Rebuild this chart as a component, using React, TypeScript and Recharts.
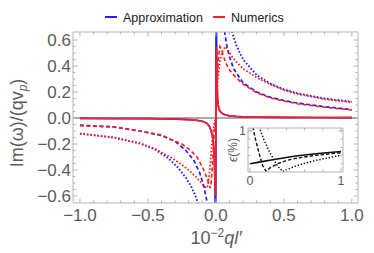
import React from 'react'
import { LineChart, Line, XAxis, YAxis, ReferenceLine } from 'recharts'

// main panel: Im(w)/(q v_p) against 10^-2 q l'
const xMajor = [-1, -0.5, 0, 0.5, 1]
const xMinor = [-0.9, -0.8, -0.7, -0.6, -0.4, -0.3, -0.2, -0.1, 0.1, 0.2, 0.3, 0.4, 0.6, 0.7, 0.8, 0.9]
const yMajor = [-0.6, -0.4, -0.2, 0, 0.2, 0.4, 0.6]
const yMinor = [-0.55, -0.5, -0.45, -0.35, -0.3, -0.25, -0.15, -0.1, -0.05, 0.05, 0.1, 0.15, 0.25, 0.3, 0.35, 0.45, 0.5, 0.55]

// solid pair
const solidQ = [-1, -0.75, -0.5, -0.3, -0.2, -0.15, -0.1, -0.07, -0.05, -0.035, -0.025, -0.018, -0.012, -0.008, -0.005, -0.003, 0.003, 0.005, 0.008, 0.012, 0.018, 0.025, 0.035, 0.05, 0.07, 0.1, 0.15, 0.2, 0.3, 0.5, 0.75, 1]
const approxSolid = [-0.003, -0.004, -0.005, -0.008, -0.012, -0.016, -0.025, -0.038, -0.06, -0.1, -0.14, -0.2, -0.3, -0.45, -0.7, -1.1, 1.1, 0.6, 0.3, 0.16, 0.09, 0.062, 0.045, 0.032, 0.024, 0.017, 0.012, 0.009, 0.007, 0.005, 0.004, 0.003]
const numSolidQ = [-1, -0.75, -0.5, -0.3, -0.2, -0.15, -0.1, -0.07, -0.05, -0.035, -0.025, -0.018, -0.012, -0.008, -0.005, -0.003, -0.0015, 0, 0.0015, 0.003, 0.005, 0.008, 0.012, 0.018, 0.025, 0.035, 0.05, 0.07, 0.1, 0.15, 0.2, 0.3, 0.5, 0.75, 1]
const numSolid = [-0.003, -0.004, -0.005, -0.008, -0.012, -0.016, -0.025, -0.038, -0.06, -0.1, -0.14, -0.2, -0.3, -0.45, -0.6, -0.45, -0.25, 0, 0.25, 0.45, 0.55, 0.3, 0.16, 0.09, 0.062, 0.045, 0.032, 0.024, 0.017, 0.012, 0.009, 0.007, 0.005, 0.004, 0.003]

// dashed pair
const approxDashNegQ = [-1, -0.75, -0.56, -0.4, -0.3, -0.22, -0.16, -0.12, -0.09, -0.07, -0.06]
const approxDashNeg = [-0.055, -0.068, -0.1, -0.135, -0.18, -0.25, -0.33, -0.42, -0.52, -0.62, -0.7]
const approxDashPosQ = [0.06, 0.065, 0.08, 0.1, 0.13, 0.2, 0.3, 0.4, 0.5, 0.6, 0.8, 1]
const approxDashPos = [0.72, 0.66, 0.56, 0.47, 0.38, 0.27, 0.2, 0.16, 0.135, 0.115, 0.087, 0.065]
const numDashQ = [-1, -0.75, -0.56, -0.4, -0.32, -0.25, -0.19, -0.14, -0.1, -0.07, -0.05, -0.042, -0.035, -0.028, -0.02, -0.013, -0.006, 0, 0.005, 0.01, 0.02, 0.03, 0.04, 0.055, 0.07, 0.1, 0.13, 0.2, 0.3, 0.4, 0.5, 0.6, 0.8, 1]
const numDash = [-0.06, -0.07, -0.1, -0.13, -0.17, -0.2, -0.245, -0.3, -0.375, -0.45, -0.51, -0.54, -0.5, -0.4, -0.25, -0.12, -0.04, 0, 0.12, 0.3, 0.48, 0.55, 0.53, 0.48, 0.43, 0.37, 0.33, 0.26, 0.195, 0.155, 0.13, 0.11, 0.083, 0.062]

// dotted pair
const approxDotNegQ = [-1, -0.75, -0.56, -0.45, -0.35, -0.28, -0.22, -0.18, -0.15, -0.13, -0.12]
const approxDotNeg = [-0.12, -0.15, -0.195, -0.24, -0.31, -0.38, -0.46, -0.53, -0.6, -0.66, -0.7]
const approxDotPosQ = [0.11, 0.12, 0.15, 0.2, 0.3, 0.4, 0.5, 0.6, 0.8, 1]
const approxDotPos = [0.72, 0.66, 0.56, 0.45, 0.33, 0.265, 0.22, 0.19, 0.15, 0.125]
const numDotQ = [-1, -0.75, -0.56, -0.45, -0.32, -0.25, -0.19, -0.14, -0.095, -0.07, -0.06, -0.05, -0.04, -0.03, -0.02, -0.01, 0, 0.005, 0.015, 0.03, 0.05, 0.07, 0.09, 0.12, 0.16, 0.2, 0.3, 0.4, 0.5, 0.6, 0.8, 1]
const numDot = [-0.12, -0.15, -0.195, -0.235, -0.31, -0.36, -0.41, -0.46, -0.515, -0.54, -0.52, -0.45, -0.33, -0.2, -0.1, -0.03, 0, 0.15, 0.3, 0.44, 0.52, 0.55, 0.52, 0.47, 0.42, 0.38, 0.31, 0.26, 0.215, 0.185, 0.145, 0.12]

// inset: relative error in percent
const insetXTicks = [0, 1]
const insetXMinor = [0.2, 0.4, 0.6, 0.8]
const insetYTicks = [1]
const insetYMinor = [0.2, 0.4, 0.6, 0.8]
const errSolidQ = [0, 0.1, 0.25, 0.5, 0.75, 1]
const errSolid = [0.2, 0.24, 0.3, 0.39, 0.45, 0.5]
const errDashQ = [0.03, 0.06, 0.1, 0.14, 0.175, 0.22, 0.3, 0.4, 0.5, 0.7, 1]
const errDash = [1.1, 0.8, 0.45, 0.15, 0.02, 0.1, 0.2, 0.28, 0.33, 0.4, 0.47]
const errDotQ = [0.1, 0.15, 0.2, 0.25, 0.3, 0.36, 0.45, 0.55, 0.7, 0.85, 1]
const errDot = [1.1, 0.8, 0.55, 0.35, 0.15, 0.01, 0.1, 0.18, 0.27, 0.34, 0.41]

const zip = (xs: number[], ys: number[]) => xs.map((x, i) => ({ x, y: ys[i] }))

const BLUE = '#1f1fff'
const RED = '#ff1f1f'
const FRAME = '#b4b4b4'
const LABEL = '#5c5c5c'
const FONT = '"Liberation Sans", Arial, sans-serif'

const fmt = (v: number) => (v === 0 ? '0.0' : v.toFixed(1).replace('-', '\u2212'))

// Mathematica-style frame ticks: pointing inward, labels only on majors
function makeTick(side: string, majors: number[], size: number, format?: (v: number) => string) {
  return (props: any) => {
    const { x, y, payload } = props
    const v = payload.value
    const major = majors.some((m) => Math.abs(m - v) < 1e-9)
    const len = major ? 4.5 : 2.5
    let line = null
    let text = null
    if (side === 'bottom') {
      line = <line x1={x} y1={y} x2={x} y2={y - len} stroke={FRAME} />
      if (major && format) text = <text x={x} y={y + size + 0.5} textAnchor="middle" fontSize={size} fill={LABEL} fontFamily={FONT}>{format(v)}</text>
    } else if (side === 'top') {
      line = <line x1={x} y1={y} x2={x} y2={y + len} stroke={FRAME} />
    } else if (side === 'left') {
      line = <line x1={x} y1={y} x2={x + len} y2={y} stroke={FRAME} />
      if (major && format) text = <text x={x - 2} y={y + size * 0.36} textAnchor="end" fontSize={size} fill={LABEL} fontFamily={FONT}>{format(v)}</text>
    } else {
      line = <line x1={x} y1={y} x2={x - len} y2={y} stroke={FRAME} />
    }
    return (
      <g>
        {line}
        {text}
      </g>
    )
  }
}

const xTicks = [...xMajor, ...xMinor].sort((a, b) => a - b)
const yTicks = [...yMajor, ...yMinor].sort((a, b) => a - b)

export default function App() {
  return (
    <div style={{ position: 'absolute', left: 0, top: 0, width: 374, height: 253, background: '#fff' }}>
      <LineChart width={374} height={253} margin={{ top: 31, right: 15, bottom: 49, left: 0 }}>
        <XAxis xAxisId="b" type="number" dataKey="x" domain={[-1.051, 1.045]} allowDataOverflow ticks={xTicks} interval={0} height={1} tickSize={0} tickMargin={0} tickLine={false} axisLine={{ stroke: FRAME }} tick={makeTick('bottom', xMajor, 17, fmt)} />
        <XAxis xAxisId="t" orientation="top" type="number" dataKey="x" domain={[-1.051, 1.045]} allowDataOverflow ticks={xTicks} interval={0} height={1} tickSize={0} tickMargin={0} tickLine={false} axisLine={{ stroke: FRAME }} tick={makeTick('top', xMajor, 17)} />
        <YAxis yAxisId="l" type="number" domain={[-0.654, 0.662]} allowDataOverflow ticks={yTicks} interval={0} width={73} tickSize={0} tickMargin={0} tickLine={false} axisLine={{ stroke: FRAME }} tick={makeTick('left', yMajor, 17, fmt)} />
        <YAxis yAxisId="r" orientation="right" type="number" domain={[-0.654, 0.662]} allowDataOverflow ticks={yTicks} interval={0} width={1} tickSize={0} tickMargin={0} tickLine={false} axisLine={{ stroke: FRAME }} tick={makeTick('right', yMajor, 17)} />
        <ReferenceLine xAxisId="b" yAxisId="l" x={0} stroke="#8f8f8f" strokeWidth={1.6} />
        <ReferenceLine xAxisId="b" yAxisId="l" y={0} stroke="#8f8f8f" strokeWidth={1.6} />

        <Line xAxisId="b" yAxisId="l" data={zip(solidQ, approxSolid)} dataKey="y" stroke={BLUE} strokeWidth={1.7} dot={false} isAnimationActive={false} />
        <Line xAxisId="b" yAxisId="l" data={zip(approxDashNegQ, approxDashNeg)} dataKey="y" stroke={BLUE} strokeWidth={1.7} strokeDasharray="4 2.5" dot={false} isAnimationActive={false} />
        <Line xAxisId="b" yAxisId="l" data={zip(approxDashPosQ, approxDashPos)} dataKey="y" stroke={BLUE} strokeWidth={1.7} strokeDasharray="4 2.5" dot={false} isAnimationActive={false} />
        <Line xAxisId="b" yAxisId="l" data={zip(approxDotNegQ, approxDotNeg)} dataKey="y" stroke={BLUE} strokeWidth={1.9} strokeDasharray="1.6 1.9" dot={false} isAnimationActive={false} />
        <Line xAxisId="b" yAxisId="l" data={zip(approxDotPosQ, approxDotPos)} dataKey="y" stroke={BLUE} strokeWidth={1.9} strokeDasharray="1.6 1.9" dot={false} isAnimationActive={false} />

        <Line xAxisId="b" yAxisId="l" data={zip(numSolidQ, numSolid)} dataKey="y" stroke={RED} strokeWidth={1.6} dot={false} isAnimationActive={false} />
        <Line xAxisId="b" yAxisId="l" data={zip(numDashQ, numDash)} dataKey="y" stroke={RED} strokeWidth={1.6} strokeDasharray="4 2.5" dot={false} isAnimationActive={false} />
        <Line xAxisId="b" yAxisId="l" data={zip(numDotQ, numDot)} dataKey="y" stroke={RED} strokeWidth={1.8} strokeDasharray="1.6 1.9" dot={false} isAnimationActive={false} />
      </LineChart>

      {/* inset */}
      <div style={{ position: 'absolute', left: 200, top: 110 }}>
        <LineChart width={160} height={90} margin={{ top: 17, right: 16, bottom: 27, left: 0 }}>
          <XAxis xAxisId="b" type="number" dataKey="x" domain={[-0.022, 1.022]} allowDataOverflow ticks={[...insetXTicks, ...insetXMinor]} interval={0} height={1} tickSize={0} tickMargin={0} tickLine={false} axisLine={{ stroke: FRAME }} tick={makeTick('bottom', insetXTicks, 12.5, (v) => String(v))} />
          <XAxis xAxisId="t" orientation="top" type="number" dataKey="x" domain={[-0.022, 1.022]} allowDataOverflow ticks={[...insetXTicks, ...insetXMinor]} interval={0} height={1} tickSize={0} tickMargin={0} tickLine={false} axisLine={{ stroke: FRAME }} tick={makeTick('top', insetXTicks, 12.5)} />
          <YAxis yAxisId="l" type="number" domain={[0, 1.07]} allowDataOverflow ticks={[...insetYMinor, ...insetYTicks]} interval={0} width={48} tickSize={0} tickMargin={0} tickLine={false} axisLine={{ stroke: FRAME }} tick={makeTick('left', insetYTicks, 12.5, (v) => String(v))} />
          <YAxis yAxisId="r" orientation="right" type="number" domain={[0, 1.07]} allowDataOverflow ticks={[...insetYMinor, ...insetYTicks]} interval={0} width={1} tickSize={0} tickMargin={0} tickLine={false} axisLine={{ stroke: FRAME }} tick={makeTick('right', insetYTicks, 12.5)} />
          <Line xAxisId="b" yAxisId="l" data={zip(errSolidQ, errSolid)} dataKey="y" stroke="#111" strokeWidth={1.6} dot={false} isAnimationActive={false} />
          <Line xAxisId="b" yAxisId="l" data={zip(errDashQ, errDash)} dataKey="y" stroke="#111" strokeWidth={1.4} strokeDasharray="3.5 2" dot={false} isAnimationActive={false} />
          <Line xAxisId="b" yAxisId="l" data={zip(errDotQ, errDot)} dataKey="y" stroke="#111" strokeWidth={1.5} strokeDasharray="1.4 1.8" dot={false} isAnimationActive={false} />
        </LineChart>
      </div>

      {/* legend and axis titles */}
      <svg width={374} height={253} style={{ position: 'absolute', left: 0, top: 0, pointerEvents: 'none' }} fontFamily={FONT}>
        <line x1={105} y1={17} x2={117} y2={17} stroke={BLUE} strokeWidth={2} />
        <text x={123} y={21.5} fontSize={12.5} fill="#222">Approximation</text>
        <line x1={213} y1={17} x2={225} y2={17} stroke={RED} strokeWidth={2} />
        <text x={231} y={21.5} fontSize={12.5} fill="#222">Numerics</text>

        <text transform="rotate(-90 23 123)" x={23} y={123} textAnchor="middle" fontSize={18} fill={LABEL}>
          Im(ω)/(qv<tspan fontSize={12} dy={4} fontStyle="italic">p</tspan><tspan dy={-4}>)</tspan>
        </text>
        <text x={216} y={244} textAnchor="middle" fontSize={18} fill={LABEL}>
          10<tspan fontSize={12} dy={-7}>−2</tspan><tspan dy={7} fontStyle="italic">ql′</tspan>
        </text>
        <text transform="rotate(-90 237 150)" x={237} y={150} textAnchor="middle" fontSize={12} fill={LABEL}>
          <tspan fontStyle="italic">ϵ</tspan>(%)
        </text>
      </svg>
    </div>
  )
}
